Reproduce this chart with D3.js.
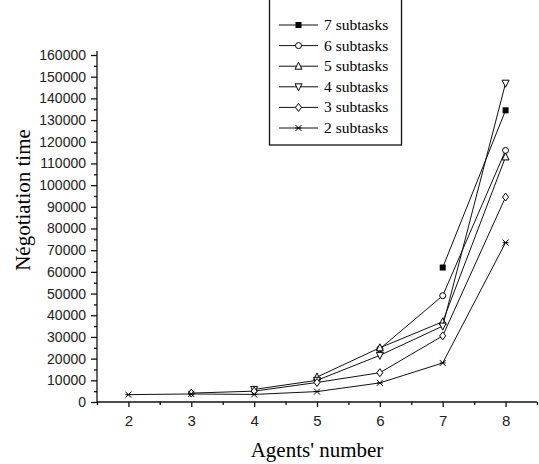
<!DOCTYPE html>
<html>
<head>
<meta charset="utf-8">
<script src="https://cdn.jsdelivr.net/npm/d3@7"></script>
<style>
  html, body { margin: 0; padding: 0; background: #fff; }
  svg { display: block; font-family: "Liberation Serif", "DejaVu Serif", serif; }
</style>
</head>
<body>
<div id="graph"></div>
<script>
// data
const agents = [2, 3, 4, 5, 6, 7, 8]
const sub7 = [null, null, null, null, null, 62000, 134500]
const sub6 = [null, null, null, null, 24500, 49000, 116000]
const sub5 = [null, null, null, 11500, 25000, 37000, 113000]
const sub4 = [null, null, 5800, 10000, 21500, 35000, 147000]
const sub3 = [null, 4100, 5000, 9000, 13500, 30500, 94500]
const sub2 = [3400, 3700, 3500, 4800, 8800, 18000, 73500]
const seriesNames = ['7 subtasks', '6 subtasks', '5 subtasks', '4 subtasks', '3 subtasks', '2 subtasks']
const seriesValues = [sub7, sub6, sub5, sub4, sub3, sub2]
const markerTypes = ['square', 'circle', 'up', 'down', 'diamond', 'star']
const yTicks = d3.range(0, 160001, 10000)

const size = { width: 539, height: 464 }
const margin = { left: 97, top: 55, bottom: 62, right: 2 }

const svg = d3.select('#graph')
  .append('svg')
  .attr('width', size.width)
  .attr('height', size.height)

const x = d3.scaleLinear().domain([1.5, 8.5]).range([97, 537])
const y = d3.scaleLinear().domain([0, 160000]).range([402, 55])

// y axis
const yAxis = svg.append('g')
  .attr('transform', `translate(${x(1.5)},0)`)
  .call(d3.axisLeft(y).tickValues(yTicks).tickSize(6).tickPadding(5).tickFormat(d3.format('d')))
yAxis.select('.domain').attr('d', `M0,${y(0)}V51`)
yAxis.selectAll('.tick text').attr('font-size', 14).attr('fill', '#222')

svg.append('g')
  .attr('transform', `translate(${x(1.5)},0)`)
  .call(d3.axisLeft(y).tickValues(d3.range(5000, 160000, 10000)).tickSize(3).tickFormat(''))
  .select('.domain').remove()

// x axis
const xAxis = svg.append('g')
  .attr('transform', `translate(0,${y(0)})`)
  .call(d3.axisBottom(x).tickValues(agents).tickSize(5).tickPadding(8).tickFormat(d3.format('d')))
xAxis.select('.domain').attr('d', `M${x(1.5)},0H${x(8.5)}`)
xAxis.selectAll('.tick text').attr('font-size', 15).attr('fill', '#222')

svg.append('g')
  .attr('transform', `translate(0,${y(0)})`)
  .call(d3.axisBottom(x).tickValues(d3.range(1.5, 8.6, 1).concat([2.5])).tickSize(3).tickFormat(''))
  .select('.domain').remove()

svg.selectAll('.domain, .tick line').attr('stroke', '#111').attr('stroke-width', 1.3)

// axis titles
svg.append('text')
  .attr('x', 317)
  .attr('y', 457)
  .attr('text-anchor', 'middle')
  .attr('font-size', 21)
  .text("Agents' number")

svg.append('text')
  .attr('transform', 'translate(30,200) rotate(-90)')
  .attr('text-anchor', 'middle')
  .attr('font-size', 21)
  .text('Négotiation time')

// markers
function drawMarker(g, type, cx, cy) {
  const s = 3
  if (type === 'square') {
    g.append('rect').attr('x', cx - s).attr('y', cy - s).attr('width', 2 * s).attr('height', 2 * s)
      .attr('fill', '#000')
  } else if (type === 'circle') {
    g.append('circle').attr('cx', cx).attr('cy', cy).attr('r', s)
      .attr('fill', '#fff').attr('stroke', '#000')
  } else if (type === 'up') {
    g.append('path').attr('d', `M${cx},${cy - s - 1}L${cx + s + 0.5},${cy + s}L${cx - s - 0.5},${cy + s}Z`)
      .attr('fill', '#fff').attr('stroke', '#000')
  } else if (type === 'down') {
    g.append('path').attr('d', `M${cx},${cy + s + 1}L${cx + s + 0.5},${cy - s}L${cx - s - 0.5},${cy - s}Z`)
      .attr('fill', '#fff').attr('stroke', '#000')
  } else if (type === 'diamond') {
    g.append('path').attr('d', `M${cx},${cy - s - 1}L${cx + s},${cy}L${cx},${cy + s + 1}L${cx - s},${cy}Z`)
      .attr('fill', '#fff').attr('stroke', '#000')
  } else {
    g.append('path').attr('d', `M${cx - s},${cy - s}L${cx + s},${cy + s}M${cx + s},${cy - s}L${cx - s},${cy + s}M${cx - s},${cy}H${cx + s}`)
      .attr('fill', 'none').attr('stroke', '#000')
  }
}

const line = d3.line()
  .defined(d => d[1] !== null)
  .x(d => x(d[0]))
  .y(d => y(d[1]))

seriesValues.forEach((vals, i) => {
  const pts = agents.map((a, j) => [a, vals[j]])
  svg.append('path')
    .datum(pts)
    .attr('d', line)
    .attr('fill', 'none')
    .attr('stroke', '#111')
    .attr('stroke-width', 1)
  const g = svg.append('g')
  pts.filter(p => p[1] !== null).forEach(p => drawMarker(g, markerTypes[i], x(p[0]), y(p[1])))
})

// legend
const legend = svg.append('g')
legend.append('rect')
  .attr('x', 269.5).attr('y', -3)
  .attr('width', 132).attr('height', 148)
  .attr('fill', '#fff').attr('stroke', '#111').attr('stroke-width', 1.3)

seriesNames.forEach((name, i) => {
  const cy = 25 + i * 20.6
  legend.append('line')
    .attr('x1', 279).attr('x2', 318).attr('y1', cy).attr('y2', cy)
    .attr('stroke', '#111')
  drawMarker(legend, markerTypes[i], 298.5, cy)
  legend.append('text')
    .attr('x', 324).attr('y', cy + 5)
    .attr('font-size', 15.5)
    .text(name)
})
</script>
</body>
</html>
